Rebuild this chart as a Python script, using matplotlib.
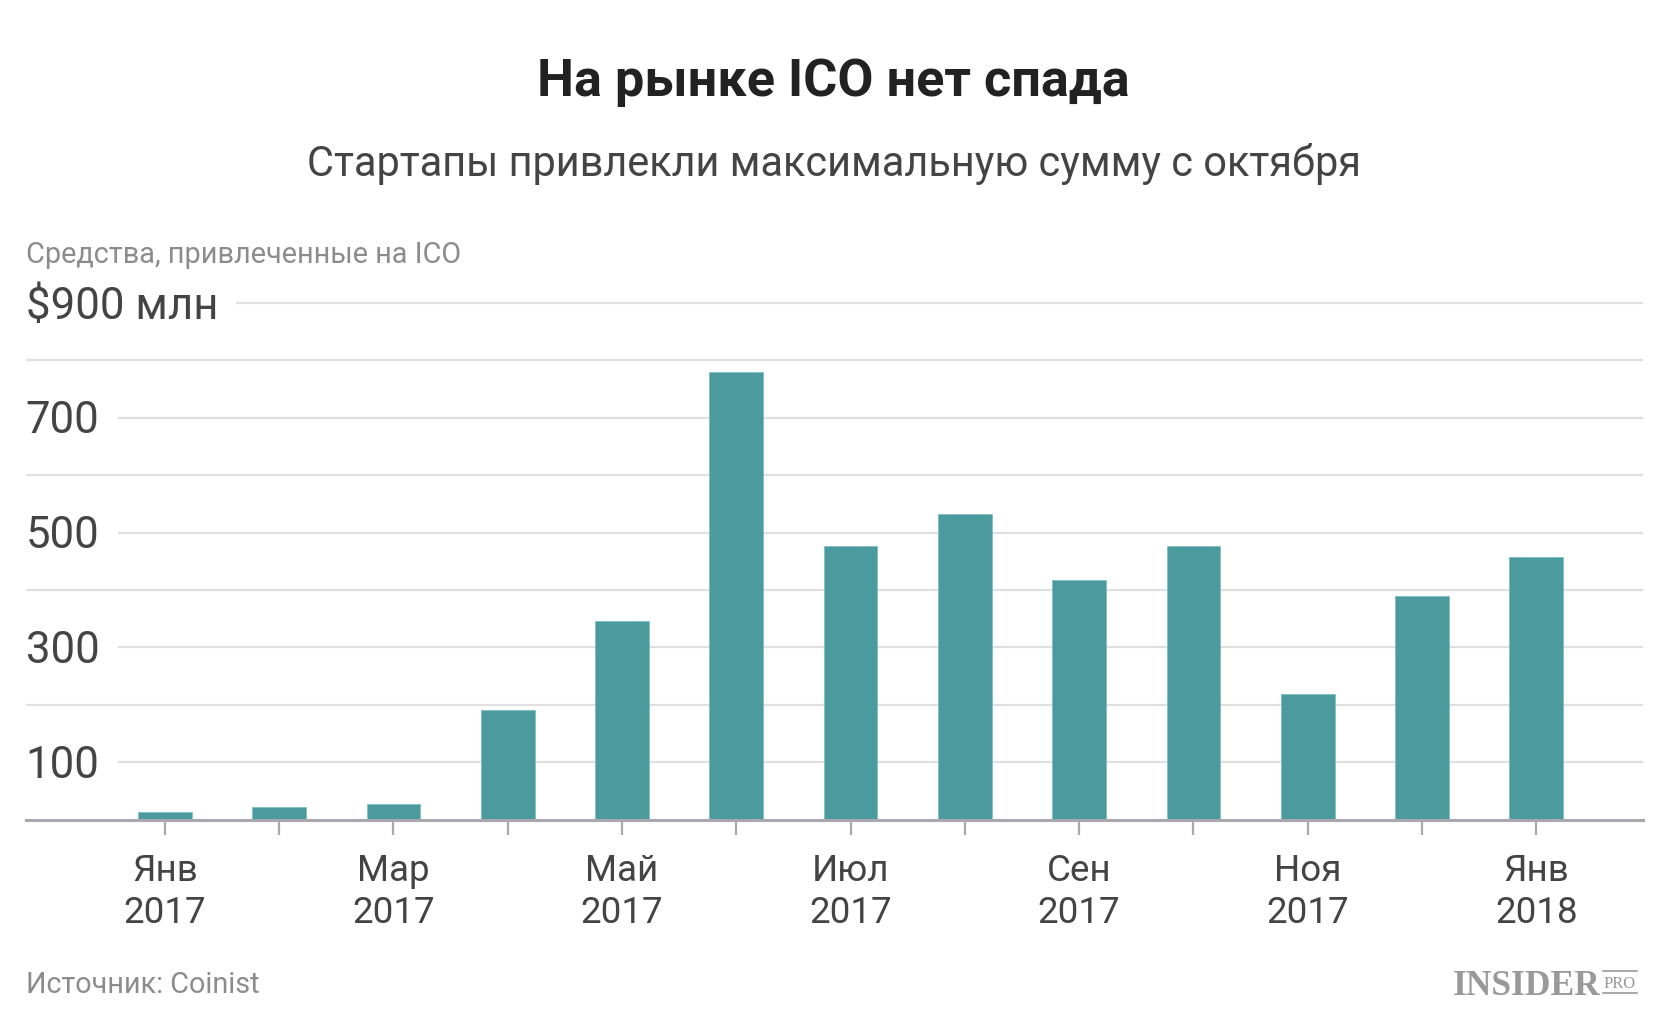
import matplotlib
matplotlib.use("Agg")
import matplotlib.pyplot as plt
from matplotlib.lines import Line2D

plt.rcParams['font.family'] = ['Roboto', 'DejaVu Sans']

# data (млн $)
months = ['Янв', 'Фев', 'Мар', 'Апр', 'Май', 'Июн', 'Июл',
          'Авг', 'Сен', 'Окт', 'Ноя', 'Дек', 'Янв']
years = ['2017'] * 12 + ['2018']
raised = [13, 22, 28, 191, 346, 780, 476, 533, 417, 476, 219, 389, 457]
y_ticks = [100, 300, 500, 700, 900]
grid_levels = [100, 200, 300, 400, 500, 600, 700, 800, 900]

W, H = 1667, 1022
bar_color = '#4b9a9e'
dark = '#444444'
muted = '#8c8c8c'

fig = plt.figure(figsize=(W / 100, H / 100), dpi=100)
fig.patch.set_facecolor('white')


def fx(px):
    return px / W


def fy(py):
    return 1 - py / H


# axes: baseline at y=819.6px, 900 line at y=303px
ymax = 920
px_per_unit = (819.6 - 303) / 900
ax_h = ymax * px_per_unit
ax = fig.add_axes([fx(25.5), fy(819.6), fx(1642.5 - 25.5), ax_h / H])
ax.set_xlim(-1.22, 12.93)
ax.set_ylim(0, ymax)

x = list(range(len(raised)))
ax.bar(x, raised, width=0.47, color=bar_color, zorder=2,
       edgecolor='#7fbfc1', linewidth=0.6)

for lvl in grid_levels:
    ax.axhline(lvl, color='#e0e0e0', lw=1.6, zorder=0)

ysize = 31.5
for t in y_ticks:
    lab = '$900 млн' if t == 900 else str(t)
    ax.annotate(lab, xy=(0, t), xycoords=ax.get_yaxis_transform(),
                xytext=(0, -0.711 * ysize / 2), textcoords='offset points',
                ha='left', va='baseline', fontsize=ysize, color=dark, zorder=3,
                bbox=dict(boxstyle='square,pad=0.42', fc='white', ec='none'))

for s in ['top', 'right', 'left']:
    ax.spines[s].set_visible(False)
ax.spines['bottom'].set_color('#a8a8ae')
ax.spines['bottom'].set_linewidth(2.2)
ax.set_yticks([])

ax.set_xticks(x)
xlabels = [f'{m}\n{y}' if i % 2 == 0 else '' for i, (m, y) in enumerate(zip(months, years))]
ax.set_xticklabels(xlabels, fontsize=26.5, color=dark, linespacing=1.2)
ax.tick_params(axis='x', length=11, width=1.6, color='#a8a8ae', pad=13)

# titles
fig.text(0.5, fy(82), 'На рынке ICO нет спада', ha='center', va='center',
         fontsize=37.6, fontweight='bold', color='#222222')
fig.text(0.5, fy(164), 'Стартапы привлекли максимальную сумму с октября',
         ha='center', va='center', fontsize=29.9, color=dark)
fig.text(fx(25.5), fy(255), 'Средства, привлеченные на ICO', ha='left',
         va='center', fontsize=20.8, color=muted)
fig.text(fx(25.5), fy(985), 'Источник: Coinist', ha='left', va='center',
         fontsize=20.7, color=muted)

# logo
fig.text(fx(1600), fy(995), 'INSIDER', ha='right', va='baseline',
         fontsize=25.5, fontweight='bold', color='#999999',
         family=['Liberation Serif', 'DejaVu Serif'])
fig.text(fx(1620), fy(988), 'PRO', ha='center', va='baseline',
         fontsize=12, color='#999999', family=['Liberation Serif', 'DejaVu Serif'])
for ly in (970.5, 993):
    fig.add_artist(Line2D([fx(1603), fx(1637)], [fy(ly), fy(ly)],
                          color='#999999', lw=1.2))

fig.savefig('out.png', dpi=100, facecolor='white')
